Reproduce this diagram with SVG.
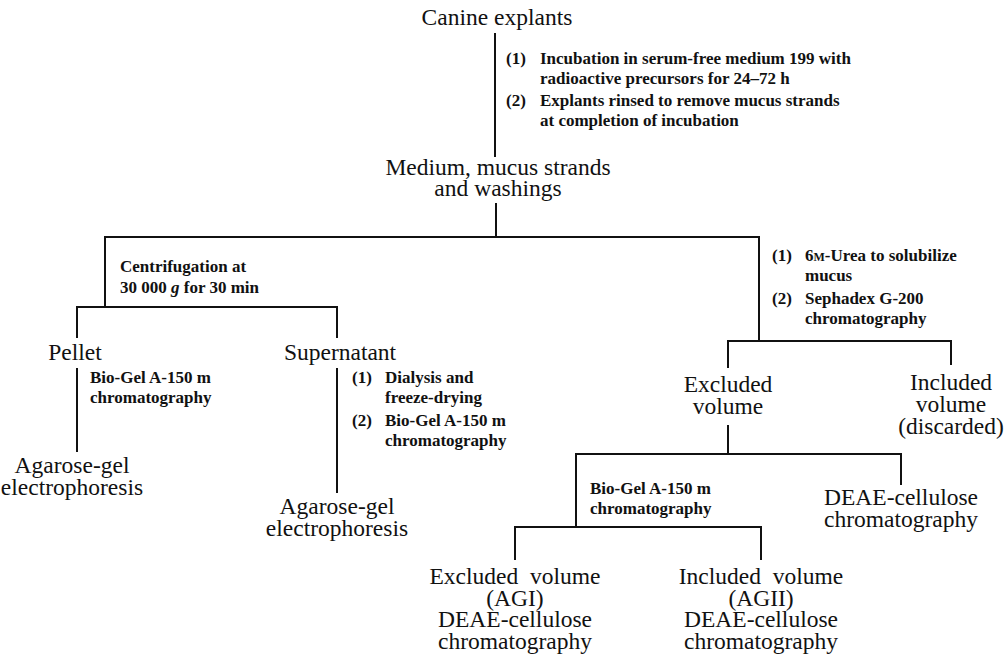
<svg xmlns="http://www.w3.org/2000/svg" width="1006" height="659" viewBox="0 0 1006 659">
<style>
.n{font-family:"Liberation Serif","Times New Roman",serif;font-size:23.5px;fill:#111;text-anchor:middle}
.s{font-family:"Liberation Serif","Times New Roman",serif;font-size:17px;font-weight:bold;fill:#111}
.c line{stroke:#111;stroke-width:2;fill:none}
</style>
<rect width="1006" height="659" fill="#fff"/>
<g class="c" id="connectors">
<line x1="495" y1="33" x2="495" y2="157"/>
<line x1="496" y1="203" x2="496" y2="237"/>
<line x1="104" y1="237" x2="760" y2="237"/>
<line x1="105" y1="236" x2="105" y2="308"/>
<line x1="76" y1="307" x2="338" y2="307"/>
<line x1="77" y1="306" x2="77" y2="338"/>
<line x1="77" y1="368" x2="77" y2="452"/>
<line x1="337" y1="306" x2="337" y2="338"/>
<line x1="337" y1="368" x2="337" y2="493"/>
<line x1="759" y1="236" x2="759" y2="341"/>
<line x1="727" y1="341" x2="952" y2="341"/>
<line x1="728" y1="340" x2="728" y2="368"/>
<line x1="951" y1="340" x2="951" y2="365"/>
<line x1="728" y1="425" x2="728" y2="454"/>
<line x1="575" y1="454" x2="902" y2="454"/>
<line x1="901" y1="453" x2="901" y2="485"/>
<line x1="576" y1="453" x2="576" y2="528"/>
<line x1="514" y1="527" x2="762" y2="527"/>
<line x1="515" y1="526" x2="515" y2="560"/>
<line x1="761" y1="526" x2="761" y2="560"/>
</g>
<g id="canine"><text class="n" x="497" y="25">Canine explants</text></g>
<g id="step-incubation">
<text class="s" x="506" y="64">(1)<tspan x="540">Incubation in serum-free medium 199 with</tspan><tspan x="540" dy="19.5">radioactive precursors for 24–72 h</tspan></text>
<text class="s" x="506" y="106">(2)<tspan x="540">Explants rinsed to remove mucus strands</tspan><tspan x="540" dy="19.5">at completion of incubation</tspan></text>
</g>
<g id="medium"><text class="n" x="498" y="175">Medium, mucus strands<tspan x="498" dy="21">and washings</tspan></text></g>
<g id="step-centrifugation">
<text class="s" x="120" y="272">Centrifugation at<tspan x="120" dy="21">30 000 <tspan font-style="italic">g</tspan> for 30 min</tspan></text>
</g>
<g id="step-urea">
<text class="s" x="772" y="261">(1)<tspan x="805">6<tspan font-size="12">M</tspan>-Urea to solubilize</tspan><tspan x="805" dy="20">mucus</tspan></text>
<text class="s" x="772" y="304">(2)<tspan x="805">Sephadex G-200</tspan><tspan x="805" dy="20">chromatography</tspan></text>
</g>
<g id="pellet"><text class="n" x="75" y="360">Pellet</text></g>
<g id="step-pellet">
<text class="s" x="90" y="383">Bio-Gel A-150 m<tspan x="90" dy="19.5">chromatography</tspan></text>
</g>
<g id="agarose1"><text class="n" x="72" y="473">Agarose-gel<tspan x="72" dy="22">electrophoresis</tspan></text></g>
<g id="supernatant"><text class="n" x="340" y="360">Supernatant</text></g>
<g id="step-supernatant">
<text class="s" x="352" y="383">(1)<tspan x="385">Dialysis and</tspan><tspan x="385" dy="19.5">freeze-drying</tspan></text>
<text class="s" x="352" y="426">(2)<tspan x="385">Bio-Gel A-150 m</tspan><tspan x="385" dy="19.5">chromatography</tspan></text>
</g>
<g id="agarose2"><text class="n" x="337" y="514">Agarose-gel<tspan x="337" dy="22">electrophoresis</tspan></text></g>
<g id="excluded"><text class="n" x="728" y="392">Excluded<tspan x="728" dy="22">volume</tspan></text></g>
<g id="included"><text class="n" x="951" y="390">Included<tspan x="951" dy="22">volume</tspan><tspan x="951" dy="22">(discarded)</tspan></text></g>
<g id="step-biogel"><text class="s" x="590" y="494">Bio-Gel A-150 m<tspan x="590" dy="19.5">chromatography</tspan></text></g>
<g id="deae"><text class="n" x="901" y="505">DEAE-cellulose<tspan x="901" dy="22">chromatography</tspan></text></g>
<g id="agi"><text class="n" x="515" y="584">Excluded&#160; volume<tspan x="515" dy="21.5">(AGI)</tspan><tspan x="515" dy="21.5">DEAE-cellulose</tspan><tspan x="515" dy="21.5">chromatography</tspan></text></g>
<g id="agii"><text class="n" x="761" y="584">Included&#160; volume<tspan x="761" dy="21.5">(AGII)</tspan><tspan x="761" dy="21.5">DEAE-cellulose</tspan><tspan x="761" dy="21.5">chromatography</tspan></text></g>
</svg>
